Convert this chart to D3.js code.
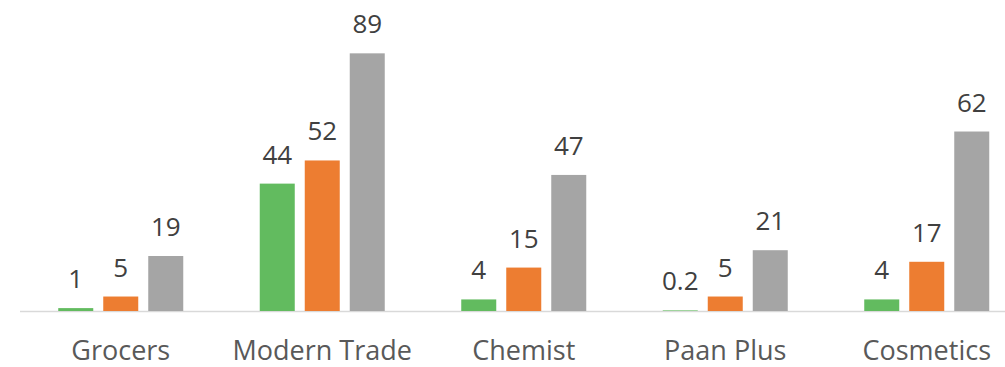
<!DOCTYPE html>
<html>
<head>
<meta charset="utf-8">
<script src="https://cdn.jsdelivr.net/npm/d3@7"></script>
<style>
  body { margin: 0; background: #fff; }
  svg { display: block; }
</style>
</head>
<body>
<svg class="chart" width="1005" height="367"></svg>
<script>
// data
var categories = ["Grocers", "Modern Trade", "Chemist", "Paan Plus", "Cosmetics"];
var seriesNames = ["s1", "s2", "s3"];
var series1 = [1, 44, 4, 0.2, 4];
var series2 = [5, 52, 15, 5, 17];
var series3 = [19, 89, 47, 21, 62];
var seriesColors = ["#62bb5f", "#ed7d31", "#a5a5a5"];

var rows = categories.map(function (c, i) {
    return { cat: c, values: [series1[i], series2[i], series3[i]] };
});

var svg = d3.select(".chart");
var font = "'Open Sans', sans-serif";

var x = d3.scaleBand()
    .domain(categories)
    .range([20, 1027.5]);

// bars inside one category
var x1 = d3.scaleBand()
    .domain(seriesNames)
    .range([x.bandwidth() / 2 - 62.5, x.bandwidth() / 2 + 62.5])
    .paddingInner(0.2222);

var y = d3.scaleLinear()
    .domain([0, 100])
    .range([311, 21.5]);

// baseline
svg.append("line")
    .attr("x1", 20)
    .attr("x2", 1005)
    .attr("y1", y(0) + 0.5)
    .attr("y2", y(0) + 0.5)
    .attr("stroke", "#d9d9d9")
    .attr("stroke-width", 1.5);

var groups = svg.selectAll(".grp")
    .data(rows)
    .join("g")
    .attr("class", "grp")
    .attr("transform", d => `translate(${x(d.cat)},0)`);

groups.selectAll("rect")
    .data(d => d.values)
    .join("rect")
    .attr("x", (d, i) => x1(seriesNames[i]))
    .attr("y", d => y(d))
    .attr("width", x1.bandwidth())
    .attr("height", d => y(0) - y(d))
    .attr("fill", (d, i) => seriesColors[i]);

groups.selectAll(".val")
    .data(d => d.values)
    .join("text")
    .attr("class", "val")
    .attr("x", (d, i) => x1(seriesNames[i]) + x1.bandwidth() / 2)
    .attr("y", d => y(d) - 20)
    .attr("text-anchor", "middle")
    .attr("font-family", font)
    .attr("font-size", "26px")
    .attr("fill", "#404040")
    .text(d => d);

// category labels
svg.selectAll(".cat")
    .data(categories)
    .join("text")
    .attr("class", "cat")
    .attr("x", d => x(d) + x.bandwidth() / 2)
    .attr("y", 359.5)
    .attr("text-anchor", "middle")
    .attr("font-family", font)
    .attr("font-size", "27px")
    .attr("fill", "#595959")
    .text(d => d);
</script>
</body>
</html>
